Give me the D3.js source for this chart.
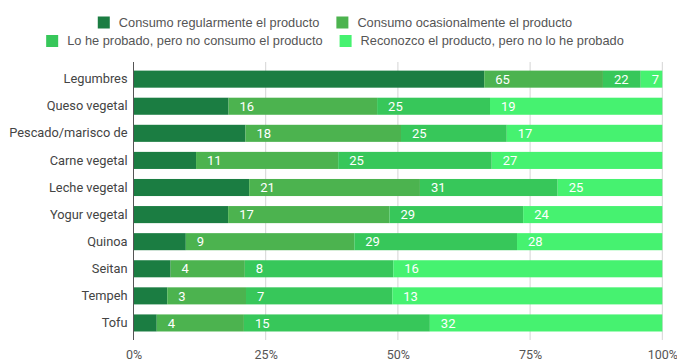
<!DOCTYPE html>
<html>
<head>
<meta charset="utf-8">
<script src="https://cdn.jsdelivr.net/npm/d3@7"></script>
<style>
  body { margin: 0; background: #fff; }
</style>
</head>
<body>
<svg width="677" height="361"></svg>
<script>
const categories = ["Legumbres", "Queso vegetal", "Pescado/marisco de", "Carne vegetal", "Leche vegetal",
  "Yogur vegetal", "Quinoa", "Seitan", "Tempeh", "Tofu"];
const regular   = [65, 16, 18, 11, 21, 17,  9,  4,  3,  4];
const ocasional = [22, 25, 25, 25, 31, 29, 29,  8,  7, 15];
const probado   = [ 7, 19, 17, 27, 25, 24, 28, 16, 13, 32];
const reconozco = [ 4, 29, 25, 30, 19, 25, 25, 29, 24, 40];
const seriesNames = [
  "Consumo regularmente el producto",
  "Consumo ocasionalmente el producto",
  "Lo he probado, pero no consumo el producto",
  "Reconozco el producto, pero no lo he probado"
];
const xTicks = [0, 0.25, 0.5, 0.75, 1];

const colors = ["#1b7d42", "#4cb34f", "#37c75a", "#46f270"];
const keys = ["s0", "s1", "s2", "s3"];
const roboto = "Roboto, sans-serif";

const rows = categories.map((c, i) => ({
  cat: c, s0: regular[i], s1: ocasional[i], s2: probado[i], s3: reconozco[i]
}));
const series = d3.stack().keys(keys).offset(d3.stackOffsetExpand)(rows);

const svg = d3.select("svg");

const x = d3.scaleLinear().domain([0, 1]).range([133.5, 662.3]);
const y = d3.scaleBand().domain(categories).range([65.6, 336.5])
  .paddingInner(0.37).paddingOuter(0.185);

// gridlines
svg.append("g")
  .selectAll("line")
  .data(xTicks.slice(1))
  .enter().append("line")
  .attr("x1", d => x(d)).attr("x2", d => x(d))
  .attr("y1", 62).attr("y2", 340)
  .attr("stroke", "#d4d4d4");

// bars
const layer = svg.append("g")
  .selectAll("g")
  .data(series)
  .enter().append("g")
  .attr("fill", (d, i) => colors[i]);

layer.selectAll("rect")
  .data(d => d)
  .enter().append("rect")
  .attr("x", d => x(d[0]))
  .attr("width", d => x(d[1]) - x(d[0]))
  .attr("y", d => y(d.data.cat))
  .attr("height", y.bandwidth());

// value labels (drawn just past the end of each segment, as in the source)
series.slice(0, 3).forEach(s => {
  svg.append("g")
    .selectAll("text")
    .data(s)
    .enter().append("text")
    .attr("x", d => x(d[1]) + 11)
    .attr("y", d => y(d.data.cat) + y.bandwidth() / 2)
    .attr("dy", "0.36em")
    .attr("fill", "#fff")
    .style("font-family", roboto)
    .style("font-size", "13px")
    .text(d => d.data[s.key]);
});

// zero axis line
svg.append("line")
  .attr("x1", x(0)).attr("x2", x(0))
  .attr("y1", 62).attr("y2", 340)
  .attr("stroke", "#555");

// category axis
const yAxis = svg.append("g")
  .attr("transform", `translate(${x(0)},0)`)
  .call(d3.axisLeft(y).tickSize(0).tickPadding(6));
yAxis.select(".domain").remove();
yAxis.selectAll("text")
  .style("font-family", roboto)
  .style("font-size", "12.8px")
  .attr("fill", "#444");

// percentage axis
const xAxis = svg.append("g")
  .attr("transform", "translate(0,340)")
  .call(d3.axisBottom(x).tickValues(xTicks).tickFormat(d3.format(".0%")).tickSize(0));
xAxis.select(".domain").remove();
xAxis.selectAll("text")
  .attr("y", 14.5)
  .attr("dy", "0.36em")
  .style("font-family", roboto)
  .style("font-size", "12.5px")
  .attr("fill", "#555");

// legend, two centred rows
const legendRows = [[0, 1], [2, 3]];
const legendY = [22.5, 41];
legendRows.forEach((idx, r) => {
  const g = svg.append("g");
  let cx = 0;
  idx.forEach(i => {
    const item = g.append("g").attr("transform", `translate(${cx},0)`);
    item.append("rect")
      .attr("x", 0).attr("y", -6)
      .attr("width", 12).attr("height", 12)
      .attr("fill", colors[i]);
    const t = item.append("text")
      .attr("x", 21).attr("dy", "0.35em")
      .style("font-family", "'Liberation Sans', Arial, sans-serif")
      .style("font-size", "12.8px")
      .attr("fill", "#555")
      .text(seriesNames[i]);
    cx += 21 + t.node().getComputedTextLength() + 17;
  });
  const w = cx - 17;
  g.attr("transform", `translate(${335 - w / 2},${legendY[r]})`);
});
</script>
</body>
</html>
